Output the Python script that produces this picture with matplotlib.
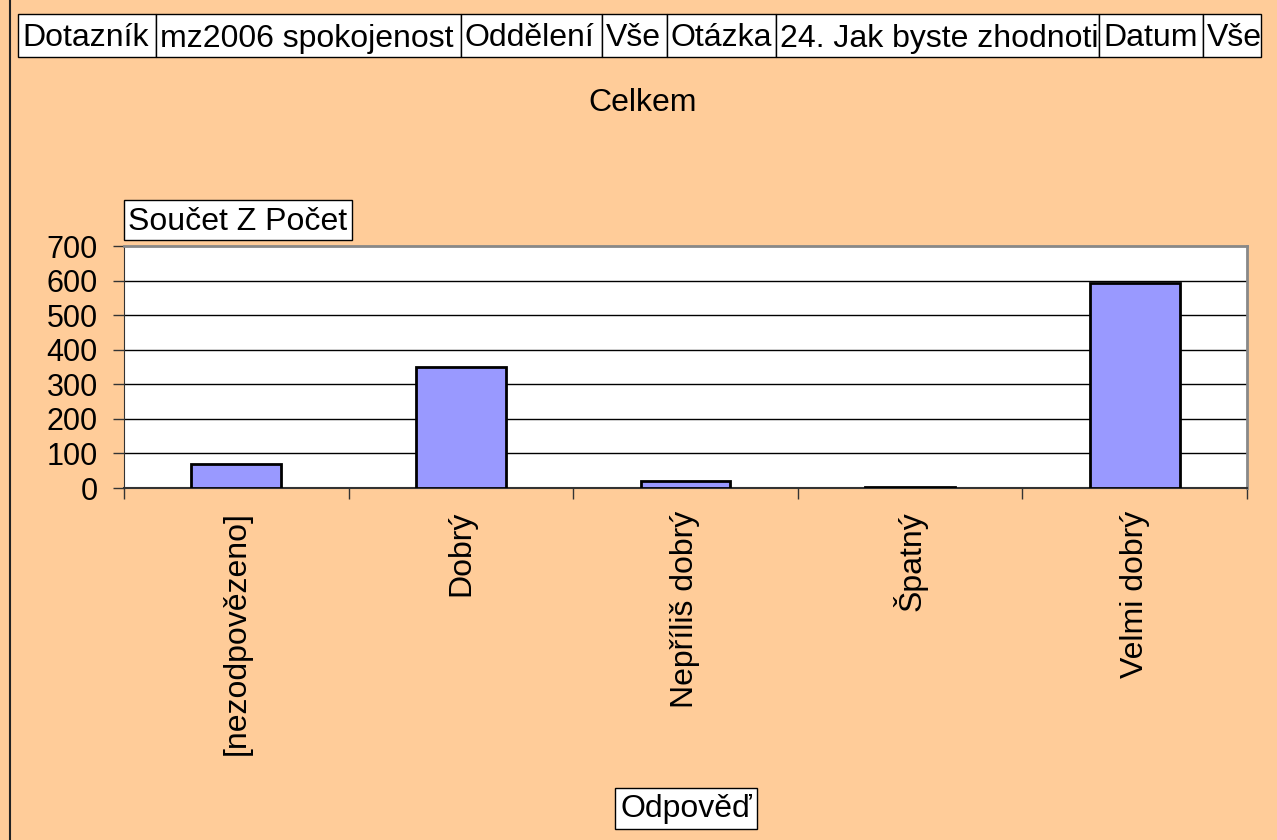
import matplotlib
matplotlib.use("Agg")
import matplotlib.pyplot as plt
from matplotlib.patches import Rectangle
from matplotlib.lines import Line2D

categories = ["[nezodpovězeno]", "Dobrý", "Nepříliš dobrý", "Špatný", "Velmi dobrý"]
values = [68, 350, 21, 4, 593]
yticks = [0, 100, 200, 300, 400, 500, 600, 700]
header_texts = ["Dotazník", "mz2006 spokojenost", "Oddělení", "Vše", "Otázka",
                "24. Jak byste zhodnotil", "Datum", "Vše"]
title = "Celkem"
ylabel = "Součet Z Počet"
xlabel = "Odpověď"

W, H = 1277, 840
BG = "#FFCC99"
FS = 23
plt.rcParams['font.family'] = ['Liberation Sans', 'DejaVu Sans']

fig = plt.figure(figsize=(W / 100, H / 100), dpi=100, facecolor=BG)

def fx(x):
    return x / W

def fy(y):
    return 1 - y / H

# plot area
L, R, T, B = 124, 1247, 246, 488
ax = fig.add_axes([fx(L), fy(B), fx(R) - fx(L), fy(T) - fy(B)])
ax.set_facecolor("white")
xs = list(range(len(categories)))
ax.bar(xs, values, width=0.4, color="#9999FF", edgecolor="black", linewidth=2, zorder=3)
ax.set_xlim(-0.5, len(categories) - 0.5)
ax.set_ylim(0, 700)
ax.set_yticks(yticks)
ax.set_yticklabels([str(v) for v in yticks], fontsize=22)
for v in yticks[1:-1]:
    ax.axhline(v, color="black", linewidth=1, zorder=1)
ax.set_xticks([i - 0.5 for i in range(len(categories) + 1)])
ax.set_xticklabels([])
ax.tick_params(axis="y", direction="out", length=8, width=1, color="#333333", pad=11)
ax.tick_params(axis="x", direction="out", length=8, width=1, color="#333333")
for s in ["top", "right"]:
    ax.spines[s].set_color("#888888")
    ax.spines[s].set_linewidth(2)
ax.spines["left"].set_color("#333333")
ax.spines["bottom"].set_color("#333333")
ax.spines["bottom"].set_linewidth(1.5)

for i, c in enumerate(categories):
    ax.text(i, -0.095, c, transform=ax.get_xaxis_transform(), rotation=90,
            ha="center", va="top", fontsize=FS)

# header cells
edges = [18, 156, 461, 602, 667, 776, 1099, 1203, 1261]
top, bot = 14, 57
for i, t in enumerate(header_texts):
    x0, x1 = edges[i], edges[i + 1]
    rect = Rectangle((fx(x0), fy(bot)), fx(x1) - fx(x0), fy(top) - fy(bot),
                     transform=fig.transFigure, facecolor="white", edgecolor="black",
                     linewidth=1)
    fig.add_artist(rect)
    txt = fig.text(fx(x0 + 4), fy((top + bot) / 2 + 3), t, ha="left", va="center",
                   fontsize=FS)
    txt.set_clip_path(rect)

fig.text(fx(643), fy(103), title, ha="center", va="center", fontsize=FS)

# y label box
r1 = Rectangle((fx(124), fy(240)), fx(352) - fx(124), fy(200) - fy(240),
               transform=fig.transFigure, facecolor="white", edgecolor="black", linewidth=1)
fig.add_artist(r1)
fig.text(fx(238), fy(222), ylabel, ha="center", va="center", fontsize=FS)

# x label box
r2 = Rectangle((fx(615), fy(829)), fx(757) - fx(615), fy(788) - fy(829),
               transform=fig.transFigure, facecolor="white", edgecolor="black", linewidth=1)
fig.add_artist(r2)
fig.text(fx(686), fy(809), xlabel, ha="center", va="center", fontsize=FS)

# left border line
fig.add_artist(Line2D([fx(10), fx(10)], [0, 1], transform=fig.transFigure,
                      color="#222222", linewidth=1.5))

fig.savefig("out.png", dpi=100, facecolor=BG)
